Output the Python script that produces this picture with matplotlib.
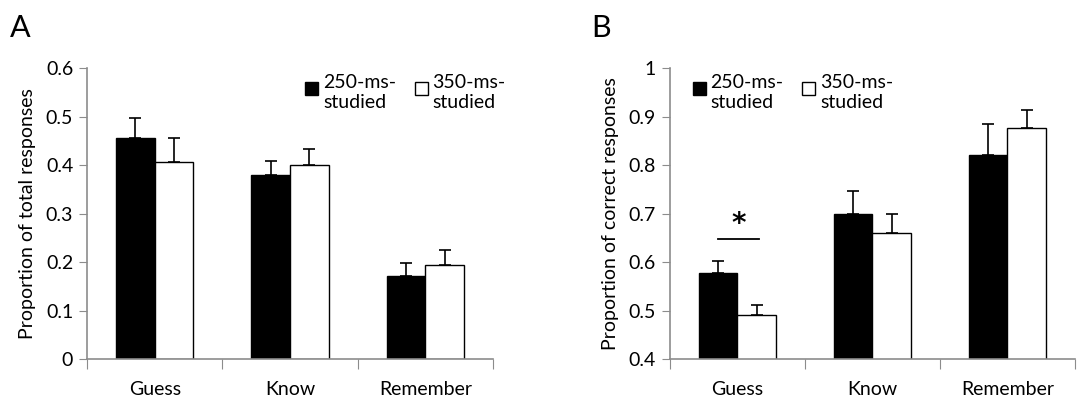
import matplotlib.pyplot as plt
from matplotlib.patches import Rectangle
import numpy as np

plt.rcParams['font.family'] = ['Lato', 'DejaVu Sans']

categories = ['Guess', 'Know', 'Remember']
series = ['250-ms-\nstudied', '350-ms-\nstudied']

# panel A: proportion of total responses
a_250 = [0.455, 0.379, 0.171]
a_250_err = [0.041, 0.030, 0.027]
a_350 = [0.406, 0.401, 0.194]
a_350_err = [0.049, 0.032, 0.030]

# panel B: proportion of correct responses
b_250 = [0.578, 0.700, 0.820]
b_250_err = [0.024, 0.046, 0.064]
b_350 = [0.491, 0.659, 0.876]
b_350_err = [0.021, 0.041, 0.038]

grey = '#8c8c8c'
w = 0.2857
fs = 14


def panel(ax, v1, e1, v2, e2, ylim, yticks, ylabel, legx):
    x = np.arange(len(categories)) + 0.5
    ax.bar(x - w / 2, v1, w, color='black', edgecolor='black', linewidth=1, zorder=2)
    ax.bar(x + w / 2, v2, w, color='white', edgecolor='black', linewidth=1, zorder=2)
    ax.errorbar(x - w / 2, v1, yerr=[np.zeros(3), e1], fmt='none', ecolor='black',
                elinewidth=1.2, capsize=4, capthick=1.2, zorder=3)
    ax.errorbar(x + w / 2, v2, yerr=[np.zeros(3), e2], fmt='none', ecolor='black',
                elinewidth=1.2, capsize=4, capthick=1.2, zorder=3)
    ax.set_xlim(0, 3)
    ax.set_ylim(*ylim)
    ax.set_yticks(yticks)
    ax.set_yticklabels([('%g' % t) for t in yticks], fontsize=fs)
    ax.set_xticks([0, 1, 2, 3])
    ax.set_xticklabels([])
    ax.set_xticks(x, minor=True)
    ax.set_xticklabels(categories, minor=True, fontsize=fs)
    ax.tick_params(axis='x', which='minor', length=0, pad=16)
    ax.tick_params(axis='x', which='major', length=7, color=grey, direction='out')
    ax.tick_params(axis='y', length=6, color=grey, direction='out', pad=4)
    for s in ['top', 'right']:
        ax.spines[s].set_visible(False)
    for s in ['left', 'bottom']:
        ax.spines[s].set_color(grey)
        ax.spines[s].set_linewidth(1.2)
    ax.set_ylabel(ylabel, fontsize=fs, labelpad=7)

    # legend drawn by hand: square beside first line of label
    for i, (lab, fc) in enumerate(zip(series, ['black', 'white'])):
        x0 = legx + i * 0.27
        ax.add_patch(Rectangle((x0, 0.907), 0.032, 0.045, transform=ax.transAxes,
                               facecolor=fc, edgecolor='black', linewidth=1,
                               clip_on=False))
        ax.text(x0 + 0.044, 0.978, lab, transform=ax.transAxes, fontsize=fs,
                ha='left', va='top', linespacing=1.2)


fig = plt.figure(figsize=(10.84, 3.97), dpi=100)
axA = fig.add_axes([0.0803, 0.0957, 0.3745, 0.733])
axB = fig.add_axes([0.6178, 0.0957, 0.3739, 0.733])

panel(axA, a_250, a_250_err, a_350, a_350_err, (0, 0.6),
      [0, 0.1, 0.2, 0.3, 0.4, 0.5, 0.6], 'Proportion of total responses', 0.537)
panel(axB, b_250, b_250_err, b_350, b_350_err, (0.4, 1.0),
      [0.4, 0.5, 0.6, 0.7, 0.8, 0.9, 1.0], 'Proportion of correct responses', 0.057)

fig.text(0.009, 0.965, 'A', fontsize=22, ha='left', va='top')
fig.text(0.545, 0.965, 'B', fontsize=22, ha='left', va='top')

# significance marker on Guess
axB.plot([0.36, 0.66], [0.648, 0.648], color='black', lw=1.3)
axB.text(0.51, 0.662, '*', ha='center', va='baseline', fontsize=20,
         fontweight='bold', family='DejaVu Sans')

fig.savefig('out.png', dpi=100)
